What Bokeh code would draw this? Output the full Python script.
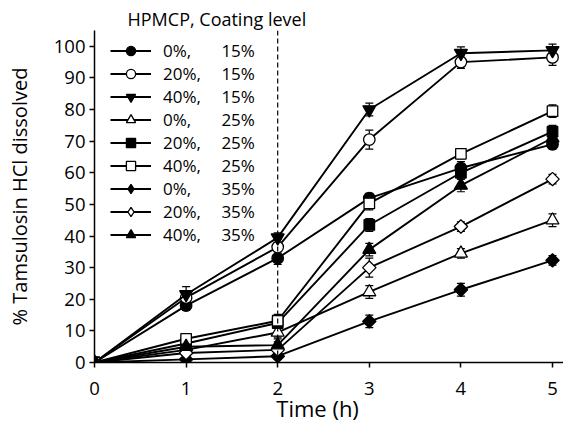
import math
from bokeh.plotting import figure
from bokeh.models import ColumnDataSource, Whisker, TeeHead, Legend, LegendItem, Span
from bokeh.embed import file_html
from bokeh.resources import INLINE

FONT = "Open Sans"

time_h = [0, 1, 2, 3, 4, 5]

labels = ["0%,", "20%,", "40%,", "0%,", "20%,", "40%,", "0%,", "20%,", "40%,"]
levels = ["15%", "15%", "15%", "25%", "25%", "25%", "35%", "35%", "35%"]

s_0_15 = [0, 18, 33, 52, 61.5, 69]
s_20_15 = [0, 20.5, 36.5, 70.5, 95, 96.5]
s_40_15 = [0, 21.5, 39.5, 80, 97.8, 98.7]
s_0_25 = [0, 4, 9.5, 22.3, 34.5, 45]
s_20_25 = [0, 6, 12.5, 43.5, 60, 73]
s_40_25 = [0, 7.5, 13.2, 50.3, 66, 79.5]
s_0_35 = [0, 1, 2, 13, 23, 32.3]
s_20_35 = [0, 3, 4, 30, 43, 58]
s_40_35 = [0, 5, 5.5, 35.7, 56, 71]

e_0_15 = [0, 1.5, 2, 1.5, 2, 1.5]
e_20_15 = [0, 1, 2.5, 3, 2, 2.5]
e_40_15 = [0, 2.5, 1.5, 2, 2, 2]
e_0_25 = [0, 1, 1.5, 2, 1.5, 2]
e_20_25 = [0, 1, 1.5, 2, 2, 2]
e_40_25 = [0, 1, 2, 2, 1.5, 2]
e_0_35 = [0, 0.5, 1, 2, 2, 1.5]
e_20_35 = [0, 1, 2.5, 3, 1.5, 1.5]
e_40_35 = [0, 1, 2, 2, 2, 2]

series = [s_0_15, s_20_15, s_40_15, s_0_25, s_20_25, s_40_25, s_0_35, s_20_35, s_40_35]
errors = [e_0_15, e_20_15, e_40_15, e_0_25, e_20_25, e_40_25, e_0_35, e_20_35, e_40_35]
shapes = ["circle", "circle", "inverted_triangle", "triangle", "square", "square",
          "diamond", "diamond", "triangle"]
filled = [True, False, True, False, True, False, True, False, True]
msize = [11.5, 11.5, 13, 13, 10.5, 10.5, 9.5, 9.5, 13]

p = figure(width=563, height=430, output_backend="svg", toolbar_location=None,
           x_range=(0, 5.12), y_range=(0, 105),
           min_border_left=94, min_border_top=30, min_border_bottom=68, min_border_right=0)
p.outline_line_color = None
p.xgrid.visible = False
p.ygrid.visible = False
p.background_fill_color = "white"

p.title.text = "HPMCP, Coating level"
p.title.align = "left"
p.title.offset = 33
p.title.standoff = 0
p.title.text_font = FONT
p.title.text_font_size = "18px"
p.title.text_font_style = "normal"
p.title.text_color = "black"

for ax in (p.xaxis[0], p.yaxis[0]):
    ax.axis_line_width = 1.5
    ax.axis_line_color = "black"
    ax.major_tick_line_color = "black"
    ax.major_tick_line_width = 1.5
    ax.major_tick_out = 5
    ax.major_tick_in = 0
    ax.minor_tick_line_color = None
    ax.major_label_text_font = FONT
    ax.major_label_text_font_size = "18.5px"
    ax.major_label_text_color = "black"
    ax.axis_label_text_font = FONT
    ax.axis_label_text_font_style = "normal"
    ax.axis_label_text_color = "black"

p.xaxis.ticker = time_h
p.yaxis.ticker = list(range(0, 101, 10))
p.xaxis.axis_label = "Time (h)\u00a0\u00a0\u00a0\u00a0"
p.yaxis.axis_label = "% Tamsulosin HCl dissolved"
p.xaxis.axis_label_text_font_size = "22px"
p.yaxis.axis_label_text_font_size = "20px"
p.xaxis.major_label_standoff = 14
p.yaxis.major_label_standoff = 4
p.xaxis.axis_label_standoff = -5
p.yaxis.axis_label_standoff = 18

p.add_layout(Span(location=2, dimension="height", line_color="black",
                  line_dash="5 3", line_width=1.2))

items = []
for i in range(9):
    y = series[i]
    e = errors[i]
    fill = "black" if filled[i] else "white"
    src = ColumnDataSource(dict(x=time_h, y=y,
                                lo=[a - b for a, b in zip(y, e)],
                                hi=[a + b for a, b in zip(y, e)]))
    r_line = p.line("x", "y", source=src, line_color="black", line_width=1.9)
    w = Whisker(source=src, base="x", lower="lo", upper="hi",
                line_color="black", line_width=1.2,
                upper_head=TeeHead(size=8, line_color="black", line_width=1.2),
                lower_head=TeeHead(size=8, line_color="black", line_width=1.2))
    p.add_layout(w)
    if shapes[i] == "diamond":
        # rotated square in the plot, diamond glyph (not drawn in the plot) for the legend
        r_pt = p.scatter("x", "y", source=src, marker="square", size=msize[i],
                         angle=math.pi / 4, line_color="black", line_width=1.3,
                         fill_color=fill)
        leg_src = ColumnDataSource(dict(x=[float("nan")], y=[float("nan")]))
        r_leg = p.scatter("x", "y", source=leg_src, marker="diamond", size=12,
                          line_color="black", line_width=1.3, fill_color=fill)
    else:
        r_pt = p.scatter("x", "y", source=src, marker=shapes[i], size=msize[i],
                         line_color="black", line_width=1.3, fill_color=fill)
        r_leg = r_pt
    pad = "\u2007" if len(labels[i]) == 3 else ""
    txt = labels[i] + pad + "\u00a0\u00a0\u00a0\u00a0\u2009" + levels[i]
    items.append(LegendItem(label=txt, renderers=[r_line, r_leg]))

legend = Legend(items=items, location=(16, 116), margin=0, padding=0,
                spacing=0, glyph_height=23, glyph_width=41, label_height=23,
                label_standoff=12, label_text_font=FONT, label_text_font_size="17px",
                label_text_color="black",
                border_line_color=None, background_fill_alpha=0)
p.add_layout(legend)

open("out.html", "w").write(file_html(p, INLINE))
